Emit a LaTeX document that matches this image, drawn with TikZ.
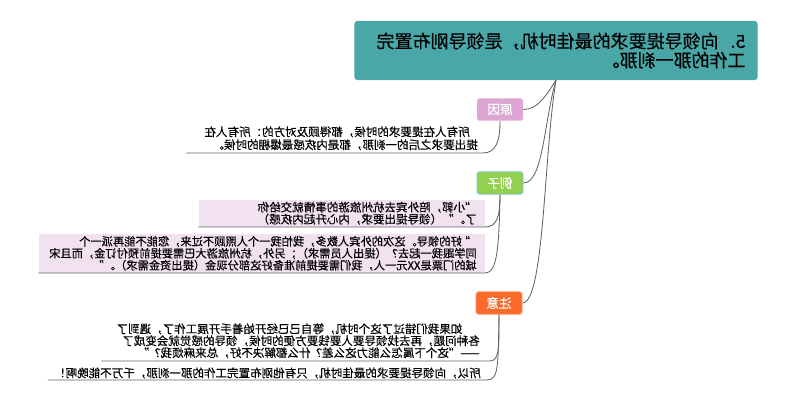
\documentclass[tikz,border=0pt]{standalone}
\usepackage{fontspec}
\setmainfont{Noto Sans CJK SC}[FakeBold=0.4]
\definecolor{rootteal}{RGB}{74,167,167}
\definecolor{labelpink}{RGB}{221,166,210}
\definecolor{labelgreen}{RGB}{146,208,80}
\definecolor{labelblue}{RGB}{125,195,235}
\definecolor{labelorange}{RGB}{250,106,42}
\definecolor{pinkbg}{RGB}{242,226,240}
\definecolor{linegray}{RGB}{100,100,100}
\begin{document}
\begin{tikzpicture}[x=-0.025cm, y=-0.025cm, xscale=-1,
  every node/.append style={transform shape},
  topic/.style={rounded corners=1.4pt, minimum width=1.15cm, minimum height=0.56cm, inner sep=0pt, text=white, font=\fontsize{9}{10}\selectfont},
  body/.style={anchor=south west, align=left, inner xsep=0.125cm, inner ysep=0.06cm, font=\fontsize{8.2}{8.5}\selectfont},
  link/.style={draw=linegray, line width=0.6pt}]
\useasboundingbox (0,0) rectangle (800,401);
\node[fill=rootteal, rounded corners=2pt, text width=9.475cm, inner xsep=0.3cm, minimum height=1.475cm, align=left, font=\fontsize{12.8}{13.6}\selectfont] (1) at (556,50.5) {5.\ \ 向领导提要求的最佳时机，是领导刚布置完\\工作的那一刹那。};
\node[topic, fill=labelpink] (2) at (500,109.5) {原因};
\node[topic, fill=labelgreen, draw=labelblue, line width=0.6pt] (3) at (500,183) {例子};
\node[topic, fill=labelorange, draw=labelorange!70!white, line width=0.6pt] (4) at (499,303) {注意};
\node[body, text width=7.15cm, font=\fontsize{8.2}{9.2}\selectfont] (5) at (483,153) {\hspace*{0.7em}所有人在提要求的时候，都得顾及对方的：所有人在\\提出要求之后的一刹那，都是内疚感最爆棚的时候。};
\node[body, fill=pinkbg, text width=6.75cm, inner xsep=0.2cm, inner ysep=0.05cm] (6) at (485,227) {“小郭，陪外宾去杭州旅游的事情就交给你\\了。”（领导提出要求，内心升起内疚感）};
\node[body, fill=pinkbg, text width=10.75cm, inner xsep=0.2cm, inner ysep=0.05cm, font=\fontsize{8}{8.5}\selectfont] (7) at (485,273) {“\ 好的领导。这次的外宾人数多，我怕我一个人照顾不过来，您能不能再派一个\\同学跟我一起去？（提出人员需求）；另外，杭州旅游大巴需要提前预付订金，而且宋\\城的门票是XX元一人，我们需要提前准备好这部分现金（提出资金需求）。”};
\node[body, text width=9.2cm, inner xsep=0.25cm] (8) at (490,361) {\hspace*{1.5em}如果我们错过了这个时机，等自己已经开始着手开展工作了，遇到了\\各种问题，再去找领导要人要钱要方便的时候，领导的感觉就会变成了\\——“这个下属怎么能力这么差？什么都解决不好，总来麻烦我？”};
\node[body, inner xsep=0.15cm, inner ysep=0.03cm, font=\fontsize{8.2}{9}\selectfont] (9) at (487,380) {所以，向领导提要求的最佳时机，只有他刚布置完工作的那一刹那，千万不能晚啊！};
\path[link] (1.south) .. controls +(-10,15) and +(15,0) .. (2.west);
\path[link] (1.south) .. controls +(-12,40) and +(20,0) .. (3.west);
\path[link] (1.south) .. controls +(-12,70) and +(22,0) .. (4.west);
\path[link] (2.south) .. controls +(0,22) and +(12,0) .. (5.south west) -- (5.south east);
\path[link] (3.south) .. controls +(0,22) and +(12,0) .. (6.south west) -- (6.south east);
\path[link] (3.south) .. controls +(-1,55) and +(12,0) .. (7.south west) -- (7.south east);
\path[link] (4.south) .. controls +(0,30) and +(10,0) .. (8.south west) -- (8.south east);
\path[link] (4.south) .. controls +(-1,50) and +(12,0) .. (9.south west) -- (9.south east);
\end{tikzpicture}
\end{document}
